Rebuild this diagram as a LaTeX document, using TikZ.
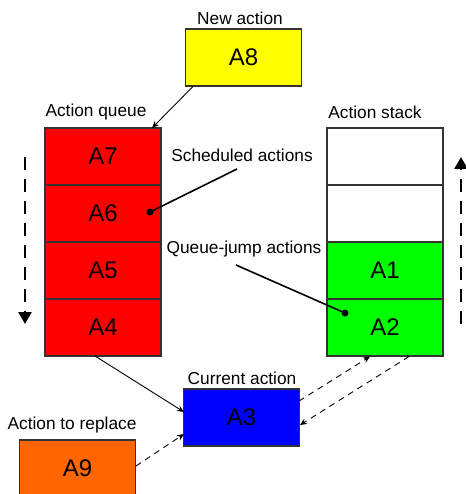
\documentclass[tikz,border=0pt]{standalone}
\usepackage{fontspec}
\setmainfont{Liberation Sans}
\usetikzlibrary{arrows.meta}
\definecolor{qred}{HTML}{FF0000}
\definecolor{nyellow}{HTML}{FFFF00}
\definecolor{sgreen}{HTML}{00FF00}
\definecolor{cblue}{HTML}{0000FF}
\definecolor{rorange}{HTML}{FF6600}
\tikzset{
  cell/.style={draw=black!80, line width=1.1pt, minimum width=116pt, minimum height=57pt, inner sep=0pt, font=\fontsize{24}{27}\selectfont},
  lab/.style={font=\fontsize{17.3}{20}\selectfont, inner sep=0pt},
  flow/.style={line width=0.9pt, -{Stealth[length=7pt,width=6pt]}},
  dflow/.style={flow, dash pattern=on 6pt off 5pt},
  bigdash/.style={line width=2.6pt, dash pattern=on 13pt off 9pt, -{Triangle[length=12pt,width=13pt]}},
  callout/.style={line width=1.6pt},
}
\begin{document}
\begin{tikzpicture}[x=1pt,y=-1pt]
\useasboundingbox (0,0) rectangle (465,494);
% new action
\node[cell, fill=nyellow] (a8) at (243.5,57.5) {A8};
\node[lab] (newlab) at (240,18) {New action};
% queue
\node[cell, fill=qred] (a7) at (103,156.5) {A7};
\node[cell, fill=qred] (a6) at (103,213.5) {A6};
\node[cell, fill=qred] (a5) at (103,270.5) {A5};
\node[cell, fill=qred] (a4) at (103,327.5) {A4};
\node[lab] (qlab) at (96,112) {Action queue};
% stack
\node[cell] (s4) at (385,156.5) {};
\node[cell] (s3) at (385,213.5) {};
\node[cell, fill=sgreen] (a1) at (385,270.5) {A1};
\node[cell, fill=sgreen] (a2) at (385,327.5) {A2};
\node[lab] (slab) at (375,112) {Action stack};
% current
\node[cell, fill=cblue] (a3) at (241.5,417.5) {A3};
\node[lab] (clab) at (242,378) {Current action};
% replace
\node[cell, fill=rorange] (a9) at (77.5,468.5) {A9};
\node[lab] (rlab) at (72,425) {Action to replace};
% callouts
\node[lab] (sched) at (242,155) {Scheduled actions};
\node[lab] (qjump) at (244,249) {Queue-jump actions};
\coordinate (d6) at (150,212);
\coordinate (d2) at (345,313);
\fill (d6) circle (3.5pt);
\fill (d2) circle (3.5pt);
\coordinate (sc) at (237,169);
\coordinate (qc) at (236,265);
\draw[callout] (sc) -- (d6);
\draw[callout] (qc) -- (d2);
% flows
\coordinate (a8o) at (193,86.5);
\coordinate (a7i) at (152,128);
\draw[flow] (a8o) -- (a7i);
\coordinate (a4o) at (95,356);
\coordinate (a3i) at (184,412);
\draw[flow] (a4o) -- (a3i);
\coordinate (a3o) at (299,401);
\coordinate (a2i) at (370,356.5);
\draw[dflow] (a3o) -- (a2i);
\coordinate (a2o) at (409,356.5);
\coordinate (a3j) at (300,425);
\draw[dflow] (a2o) -- (a3j);
\coordinate (a9o) at (136,466);
\coordinate (a3k) at (184,434);
\draw[dflow] (a9o) -- (a3k);
% big dashed arrows
\coordinate (ql1) at (25,157);
\coordinate (ql2) at (25,324);
\draw[bigdash] (ql1) -- (ql2);
\coordinate (sr1) at (461,324);
\coordinate (sr2) at (461,157);
\draw[bigdash] (sr1) -- (sr2);
\end{tikzpicture}
\end{document}
